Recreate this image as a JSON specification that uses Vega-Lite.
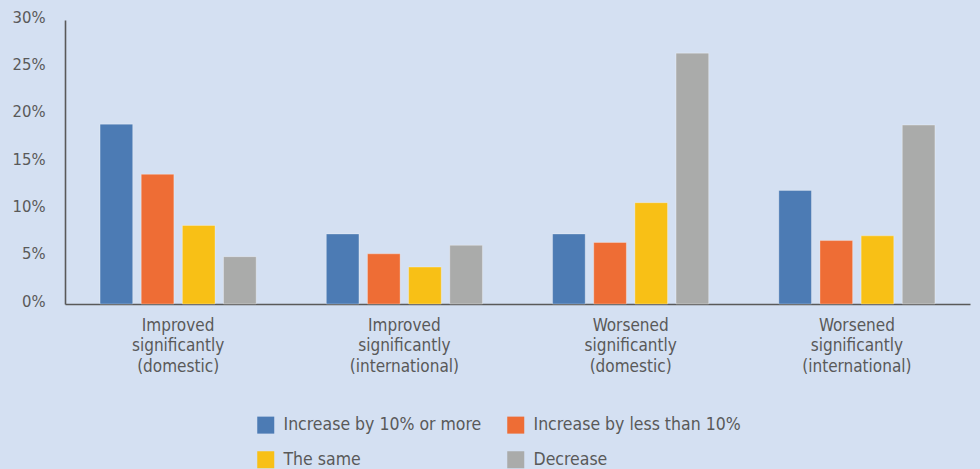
{
  "$schema": "https://vega.github.io/schema/vega-lite/v6.json",
  "width": 905,
  "height": 284,
  "autosize": {"type": "none"},
  "padding": {"left": 65, "top": 20, "right": 10, "bottom": 165},
  "background": "#d4e0f2",
  "config": {
    "view": {"stroke": null},
    "font": "DejaVu Sans Condensed, sans-serif",
    "axis": {"labelColor": "#595959", "domainColor": "#595959", "domainWidth": 1.6, "grid": false, "ticks": false}
  },
  "data": {
    "values": [
      {"outcome": "Improved significantly (domestic)", "change": "Increase by 10% or more", "share": 19.0},
      {"outcome": "Improved significantly (domestic)", "change": "Increase by less than 10%", "share": 13.7},
      {"outcome": "Improved significantly (domestic)", "change": "The same", "share": 8.3},
      {"outcome": "Improved significantly (domestic)", "change": "Decrease", "share": 5.0},
      {"outcome": "Improved significantly (international)", "change": "Increase by 10% or more", "share": 7.4},
      {"outcome": "Improved significantly (international)", "change": "Increase by less than 10%", "share": 5.3},
      {"outcome": "Improved significantly (international)", "change": "The same", "share": 3.9},
      {"outcome": "Improved significantly (international)", "change": "Decrease", "share": 6.2},
      {"outcome": "Worsened significantly (domestic)", "change": "Increase by 10% or more", "share": 7.4},
      {"outcome": "Worsened significantly (domestic)", "change": "Increase by less than 10%", "share": 6.5},
      {"outcome": "Worsened significantly (domestic)", "change": "The same", "share": 10.7},
      {"outcome": "Worsened significantly (domestic)", "change": "Decrease", "share": 26.5},
      {"outcome": "Worsened significantly (international)", "change": "Increase by 10% or more", "share": 12.0},
      {"outcome": "Worsened significantly (international)", "change": "Increase by less than 10%", "share": 6.7},
      {"outcome": "Worsened significantly (international)", "change": "The same", "share": 7.2},
      {"outcome": "Worsened significantly (international)", "change": "Decrease", "share": 18.9}
    ]
  },
  "mark": {"type": "bar", "stroke": "#ffffff", "strokeOpacity": 0.3, "strokeWidth": 1},
  "encoding": {
    "x": {
      "field": "outcome",
      "type": "nominal",
      "sort": null,
      "scale": {"paddingInner": 0.31, "paddingOuter": 0.155},
      "axis": {
        "title": null,
        "labelAngle": 0,
        "labelFontSize": 17,
        "labelLineHeight": 20.5,
        "labelPadding": 13,
        "labelLimit": 300,
        "labelExpr": "split(datum.label, ' ')"
      }
    },
    "xOffset": {
      "field": "change",
      "type": "nominal",
      "sort": ["Increase by 10% or more", "Increase by less than 10%", "The same", "Decrease"],
      "scale": {"paddingInner": 0.207, "paddingOuter": 0}
    },
    "y": {
      "field": "share",
      "type": "quantitative",
      "scale": {"domain": [0, 30], "nice": false},
      "axis": {
        "title": null,
        "values": [0, 5, 10, 15, 20, 25, 30],
        "labelExpr": "datum.value + '%'",
        "labelFontSize": 16.5,
        "labelPadding": 20,
        "labelOffset": -3
      }
    },
    "color": {
      "field": "change",
      "type": "nominal",
      "scale": {
        "domain": ["Increase by 10% or more", "The same", "Increase by less than 10%", "Decrease"],
        "range": ["#4c7bb4", "#f8c016", "#ee6d35", "#aaabaa"]
      },
      "legend": {
        "title": null,
        "orient": "none",
        "legendX": 192,
        "legendY": 396,
        "columns": 2,
        "gridAlign": "all",
        "columnPadding": 16,
        "rowPadding": 16,
        "symbolType": "square",
        "symbolSize": 289,
        "symbolStrokeWidth": 0,
        "symbolOffset": 0,
        "labelOffset": 9,
        "labelFontSize": 17.5,
        "labelColor": "#595959",
        "labelLimit": 400
      }
    }
  }
}
